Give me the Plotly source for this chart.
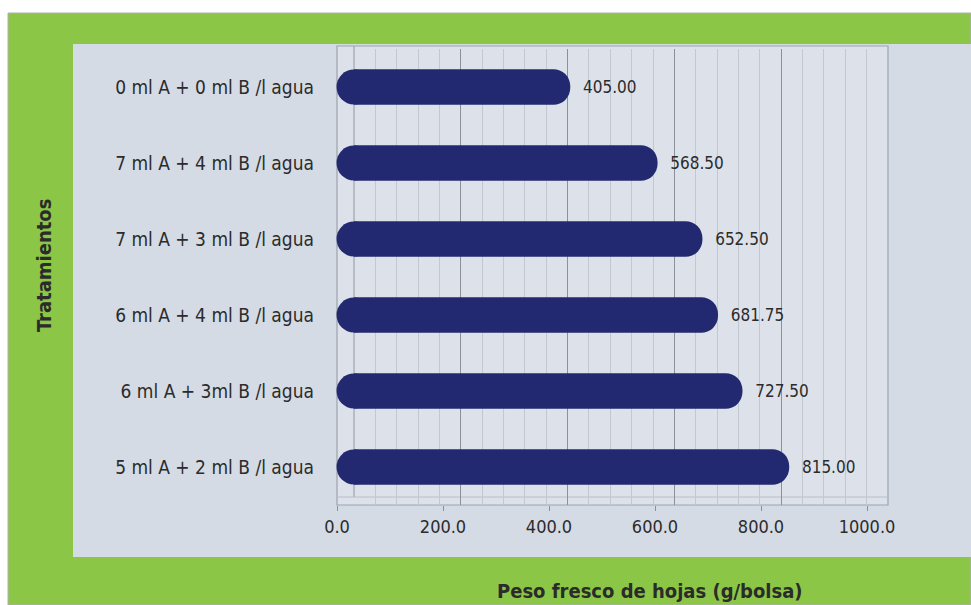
import plotly.graph_objects as go

W, H = 971, 605

tratamientos = [
    "0 ml A + 0 ml B /l agua",
    "7 ml A + 4 ml B /l agua",
    "7 ml A + 3 ml B /l agua",
    "6 ml A + 4 ml B /l agua",
    "6 ml A + 3ml B /l agua",
    "5 ml A + 2 ml B /l agua",
]
peso = [405.00, 568.50, 652.50, 681.75, 727.50, 815.00]
tick_vals = [0, 200, 400, 600, 800, 1000]
tick_text = ["0.0", "200.0", "400.0", "600.0", "800.0", "1000.0"]

FONT = "DejaVu Sans Condensed, Liberation Sans Narrow, Arial Narrow, sans-serif"
TXT = "#2b2b2b"
GREEN = "#8cc646"
PANEL = "#d5dbe5"
WALL = "#dde2ea"
BAR = "#222970"


def fx(px):
    return px / W


def fy(py):
    return 1 - py / H


fig = go.Figure()

# rounded left caps of the cylinders (at each bar's base, 0)
fig.add_trace(go.Scatter(
    y=tratamientos,
    x=[0 for _ in peso],
    mode="markers",
    marker=dict(symbol="circle", size=35, color=BAR, line=dict(width=0)),
    showlegend=False, hoverinfo="skip", cliponaxis=False,
))

fig.add_trace(go.Bar(
    y=tratamientos,
    x=peso,
    orientation="h",
    width=0.47,
    marker=dict(color=BAR, line=dict(width=0), cornerradius="50%"),
    text=["\u00a0\u00a0" + f"{v:.2f}" for v in peso],
    textposition="outside",
    textfont=dict(family=FONT, size=17, color=TXT),
    cliponaxis=False,
    showlegend=False,
    hoverinfo="skip",
))

shapes = [
    dict(type="rect", xref="paper", yref="paper", x0=fx(8), x1=fx(971), y0=fy(605), y1=fy(13),
         fillcolor=GREEN, line=dict(color="#b0b0b0", width=1), layer="below"),
    dict(type="rect", xref="paper", yref="paper", x0=fx(73), x1=fx(971), y0=fy(557), y1=fy(44),
         fillcolor=PANEL, line=dict(width=0), layer="below"),
    dict(type="rect", xref="paper", yref="paper", x0=fx(337), x1=fx(888), y0=fy(505), y1=fy(46),
         fillcolor=WALL, line=dict(color="#9ea3ab", width=1.2), layer="below"),
    dict(type="line", xref="paper", yref="paper", x0=fx(354), x1=fx(354), y0=fy(497), y1=fy(46),
         line=dict(color="#9ea3ab", width=1.2), layer="below"),
    dict(type="line", xref="paper", yref="paper", x0=fx(337), x1=fx(888), y0=fy(497), y1=fy(497),
         line=dict(color="#b8bcc4", width=1), layer="below"),
]

annotations = [
    dict(text="<b>Tratamientos</b>", xref="paper", yref="paper", x=fx(44), y=fy(266),
         textangle=-90, showarrow=False, font=dict(family=FONT, size=20, color=TXT),
         xanchor="center", yanchor="middle"),
    dict(text="<b>Peso fresco de hojas (g/bolsa)</b>", xref="paper", yref="paper",
         x=fx(650), y=fy(591), showarrow=False, font=dict(family=FONT, size=20, color=TXT),
         xanchor="center", yanchor="middle"),
]

fig.update_layout(
    width=W, height=H,
    margin=dict(l=0, r=0, t=0, b=0, autoexpand=False),
    paper_bgcolor="white",
    plot_bgcolor="rgba(0,0,0,0)",
    shapes=shapes,
    annotations=annotations,
    xaxis=dict(
        domain=[fx(354), fx(888)],
        range=[0, 1000],
        showticklabels=False,
        ticks="",
        showgrid=True, gridcolor="#8c9098", gridwidth=1.3, dtick=200, tick0=0,
        minor=dict(showgrid=True, gridcolor="#c3c8d0", gridwidth=1, dtick=40),
        zeroline=False, showline=False, fixedrange=True, automargin=False,
    ),
    xaxis2=dict(
        domain=[fx(337), fx(867)],
        range=[0, 1000],
        anchor="free", position=fy(505),
        tickvals=tick_vals, ticktext=tick_text,
        ticks="outside", ticklen=5, tickcolor="#8c9098", tickwidth=1,
        tickfont=dict(family=FONT, size=18, color=TXT),
        showgrid=False, zeroline=False, showline=False, automargin=False,
    ),
    yaxis=dict(
        domain=[fy(505), fy(49)],
        range=[len(tratamientos) - 0.5, -0.5],
        ticks="", showgrid=False, zeroline=False, showline=False,
        ticklabelstandoff=39, automargin=False,
        tickfont=dict(family=FONT, size=19, color=TXT),
    ),
)

# invisible helper so the label axis is drawn
fig.add_trace(go.Scatter(x=[tick_vals[0]], y=[tratamientos[0]], xaxis="x2", yaxis="y",
                         mode="markers", marker=dict(opacity=0), showlegend=False,
                         hoverinfo="skip"))

fig.write_html("out.html")
